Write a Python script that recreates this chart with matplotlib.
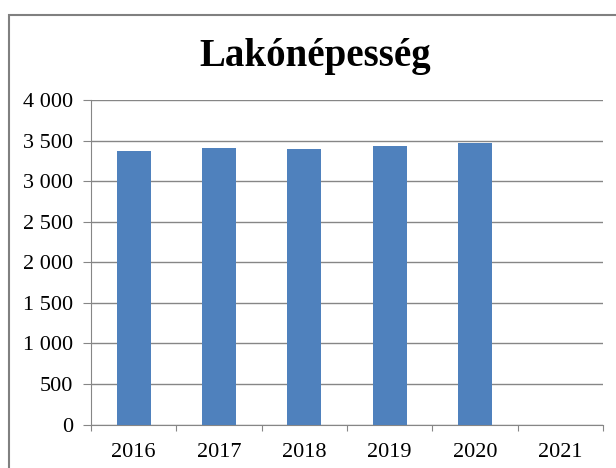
import matplotlib.pyplot as plt
from matplotlib.patches import Rectangle
from matplotlib.ticker import FuncFormatter, FixedLocator, NullFormatter

years = ["2016", "2017", "2018", "2019", "2020", "2021"]
population = [3370, 3407, 3395, 3432, 3469, 0]

BAR_COLOR = "#4F81BD"
GRID_COLOR = "#868686"

plt.rcParams["font.family"] = ["Liberation Serif", "DejaVu Serif"]

fig = plt.figure(figsize=(6.16, 4.68), dpi=100)
W, H = 616, 468
ax = fig.add_axes([91 / W, 1 - 424.5 / H, (603 - 91) / W, (424.5 - 100) / H])

# outer chart frame, cut by the image edge on the right and bottom
fig.patches.append(Rectangle((9 / W, -0.1), 1.2, 1 - 15 / H + 0.1, transform=fig.transFigure,
                             fill=False, edgecolor="#808080", linewidth=1.5))

x = range(len(years))
ax.bar(x, population, width=0.4, color=BAR_COLOR, zorder=3)

ax.set_xlim(-0.5, len(years) - 0.5)
ax.set_ylim(0, 4000)
ax.set_yticks(range(0, 4001, 500))
ax.yaxis.set_major_formatter(FuncFormatter(lambda v, _: f"{int(v):,}".replace(",", " ")))
ax.grid(axis="y", color=GRID_COLOR, linewidth=1.0, zorder=0)

ax.xaxis.set_major_locator(FixedLocator([i - 0.5 for i in range(len(years) + 1)]))
ax.xaxis.set_major_formatter(NullFormatter())
ax.xaxis.set_minor_locator(FixedLocator(list(x)))
ax.set_xticklabels(years, minor=True)
ax.tick_params(axis="x", which="minor", length=0, pad=13, labelsize=16)
ax.tick_params(axis="x", which="major", length=4.5, color=GRID_COLOR, direction="out")
ax.tick_params(axis="y", length=6, color=GRID_COLOR, labelsize=16, pad=7)

for s in ("top", "right"):
    ax.spines[s].set_visible(False)
for s in ("left", "bottom"):
    ax.spines[s].set_color(GRID_COLOR)

fig.text(315 / W, 1 - 66 / H, "Lakónépesség", ha="center", va="baseline",
         fontsize=28, fontweight="bold")

fig.savefig("out.png", dpi=100)
